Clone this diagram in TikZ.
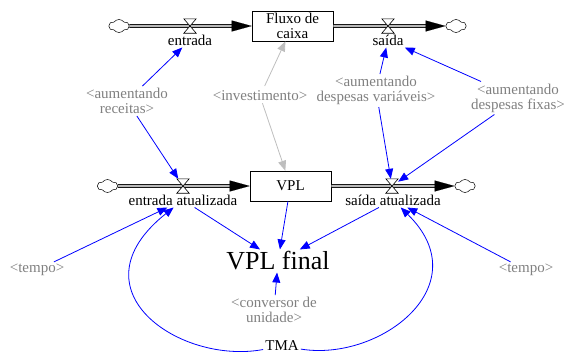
\documentclass[tikz,border=0pt]{standalone}
\usepackage{fontspec}
\setmainfont{Liberation Serif}
\usetikzlibrary{arrows.meta,shapes.symbols}
\definecolor{lblgray}{RGB}{128,128,128}
\definecolor{lnkgray}{RGB}{190,190,190}
\definecolor{lnkblue}{RGB}{0,0,255}
\begin{document}
\begin{tikzpicture}[x=1pt,y=-1pt,
  txt/.style={font=\fontsize{15}{15}\selectfont, inner sep=2pt, align=center},
  shadow/.style={txt, text=lblgray},
  stock/.style={draw, line width=0.6pt, minimum width=81pt, minimum height=30pt, inner sep=0pt, font=\fontsize{15}{15}\selectfont, align=center},
  cloudnode/.style={cloud, cloud puffs=6, cloud puff arc=110, draw, line width=0.5pt, minimum width=20pt, minimum height=13pt, inner sep=0pt},
  valvebox/.style={minimum width=12pt, minimum height=14pt, inner sep=0pt},
  valveline/.style={fill=white, draw=black, line width=0.6pt},
  pipe/.style={draw=black, double=gray!55, double distance=2.2pt, line width=0.7pt},
  pipetip/.style={-{Triangle[length=20pt,width=11pt]}, line width=0.1pt},
  link/.style={draw=lnkblue, line width=0.8pt, -{Triangle[length=10pt,width=8pt]}},
  glink/.style={draw=lnkgray, line width=0.8pt, -{Triangle[length=10pt,width=8pt]}}
]
\useasboundingbox (0,0) rectangle (567,354);

% stocks
\node[stock] (fc) at (292.5,26) {Fluxo de\\caixa};
\node[stock] (vpl) at (290.5,186) {VPL};

% clouds
\node[cloudnode] (ctl) at (119,26) {};
\node[cloudnode] (ctr) at (456,26) {};
\node[cloudnode] (cbl) at (107.5,186) {};
\node[cloudnode] (cbr) at (465,186) {};

% pipes
\draw[pipe, shorten >=19pt] (ctl) -- (fc);
\draw[pipetip] ([xshift=-20pt]fc.west) -- (fc.west);
\draw[pipe, shorten >=19pt] (fc) -- (ctr);
\draw[pipetip] ([xshift=-20pt]ctr.west) -- (ctr.west);
\draw[pipe, shorten >=19pt] (cbl) -- (vpl);
\draw[pipetip] ([xshift=-20pt]vpl.west) -- (vpl.west);
\draw[pipe, shorten >=19pt] (vpl) -- (cbr);
\draw[pipetip] ([xshift=-20pt]cbr.west) -- (cbr.west);

% valves
\node[valvebox] (vt1) at (190,26) {};
\node[valvebox] (vt2) at (388,26) {};
\node[valvebox] (vb1) at (183,186) {};
\node[valvebox] (vb2) at (392,186) {};
\foreach \v in {vt1,vt2,vb1,vb2}{
  \draw[valveline] (\v.north west) -- (\v.north east) -- (\v.south west) -- (\v.south east) -- cycle;
}

% labels
\node[txt] (ent) at (190,40) {entrada};
\node[txt] (sai) at (388,40) {saída};
\node[txt] (enta) at (183,200) {entrada atualizada};
\node[txt] (saia) at (393,200) {saída atualizada};
\node[shadow] (rec) at (127,101) {\textless aumentando\\receitas\textgreater};
\node[shadow] (inv) at (260,96) {\textless investimento\textgreater};
\node[shadow] (dvar) at (376,90.5) {\textless aumentando\\despesas variáveis\textgreater};
\node[shadow] (dfix) at (518,98) {\textless aumentando\\despesas fixas\textgreater};
\node[shadow] (tl) at (37,270) {\textless tempo\textgreater};
\node[shadow] (tr) at (526,270) {\textless tempo\textgreater};
\node[shadow] (conv) at (274,310) {\textless conversor de\\unidade\textgreater};
\node[txt, font=\fontsize{26}{26}\selectfont] (final) at (278,261) {VPL final};
\node[txt] (tma) at (282,346) {TMA};

% links
\draw[link] (rec) -- (ent);
\draw[link] (rec) -- (vb1);
\draw[glink, shorten <=3pt] (inv) -- (fc);
\draw[glink] (inv) -- (vpl);
\draw[link] (dvar) -- (sai);
\draw[link] (dfix) -- (sai);
\draw[link] (dvar) -- (vb2);
\draw[link] (dfix) -- (vb2);
\draw[link] (tl) -- (enta);
\draw[link] (tr) -- (saia);
\draw[link] (enta) -- (final);
\draw[link] (vpl) -- (final);
\draw[link] (saia) -- (final);
\draw[link] (conv) -- (final);
\draw[link] (tma) .. controls (180,365) and (70,290) .. (enta);
\draw[link] (tma) .. controls (380,362) and (480,285) .. (saia);
\end{tikzpicture}
\end{document}
